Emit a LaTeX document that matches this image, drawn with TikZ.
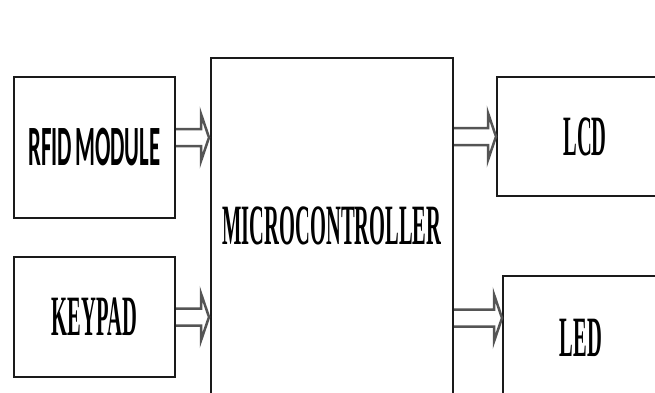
\documentclass[tikz,border=0pt]{standalone}
\usepackage{fontspec}
\setmainfont{Liberation Serif}
\newfontfamily\rfidfont{Carlito}
\usepackage{graphicx}
\usetikzlibrary{positioning,arrows.meta,calc}
\definecolor{borde}{HTML}{1A1A1A}
\definecolor{flecha}{HTML}{555555}
\newcommand{\ancho}[2][0.36]{\scalebox{#1}[1]{#2}}

\begin{document}
\begin{tikzpicture}[x=1pt,y=-1pt,
        font=\fontsize{57}{60}\selectfont\bfseries,
        b/.style={draw=borde,line width=2pt,inner sep=0pt,align=center},
        f/.style={draw=flecha,line width=2.5pt,
          to path={($(\tikztostart)+(0,-8.5)$) -- ($(\tikztotarget)+(-8,-8.5)$) -- ++(0,-15)
            -- (\tikztotarget) -- ($(\tikztotarget)+(-8,23.5)$) -- ++(0,-15) -- ($(\tikztostart)+(0,8.5)$)}}]
        \useasboundingbox (0,0) rectangle (655,392);
        \clip (0,0) rectangle (655,392);
        \node[b,minimum width=161pt,minimum height=141pt] (rfid) at (94.5,147.5) {\ancho[0.4]{\rfidfont\bfseries RFID\hspace{-5pt} MODULE}};
        \node[b,minimum width=161pt,minimum height=120pt] (key) at (94.5,317) {\ancho{KEYPAD}};
        \node[b,minimum width=242pt,minimum height=336pt] (mcu) at (332,226) {\ancho{MICROCONTROLLER}};
        \node[b,minimum width=176pt,minimum height=119pt] (lcd) at (585,136.5) {\ancho{LCD}};
        \node[b,minimum width=156pt,minimum height=124pt] (led) at (581,338) {\ancho{LED}};
        \draw[f] ([yshift=10pt]rfid.east) to ([xshift=-1pt,yshift=10pt]rfid.east -| mcu.west);
        \draw[f] (key.east) to ([xshift=-1pt]key.east -| mcu.west);
        \draw[f] (mcu.east |- lcd.west) to (lcd.west);
        \draw[f] ([yshift=20pt]led.west -| mcu.east) to ([yshift=20pt]led.west);
      \end{tikzpicture}
\end{document}
